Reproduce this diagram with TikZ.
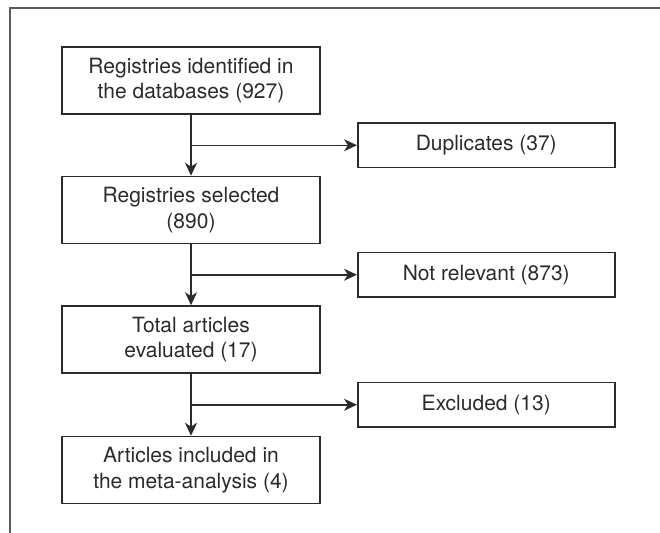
\documentclass[tikz,border=0pt]{standalone}
\usepackage{fontspec}
\setmainfont{TeX Gyre Heros}
\usepackage{tikz}
\usetikzlibrary{positioning, arrows.meta}
\definecolor{FrameGray}{HTML}{5A5A5A}
\definecolor{LineGray}{HTML}{2B2B2B}

\begin{document}
\begin{tikzpicture}[x=1pt, y=-1pt,
		box/.style={draw=LineGray, text=LineGray, line width=1.5pt, minimum width=258pt, minimum height=67pt,
			inner sep=0pt, align=center, font=\fontsize{21}{25.5}\selectfont},
		sidebox/.style={box, minimum width=257pt, minimum height=44.5pt},
		arr/.style={draw=LineGray, line width=1.5pt, -{Stealth[length=13pt, width=12pt, inset=4pt]}}]
		\clip (0,0) rectangle (660,532);
		\draw[FrameGray, line width=1.6pt] (10,540) -- (10,8) -- (670,8);
		
		\node[box]	(Identified) at (191,80.5) {Registries identified in\\the databases (927)};
		\node[box, below=61pt of Identified]	(Selected) {Registries selected\\(890)};
		\node[box, below=61pt of Selected]	(Evaluated) {Total articles\\evaluated (17)};
		\node[box, below=62pt of Evaluated]	(Included) {Articles included in\\the meta-analysis (4)};
		
		\coordinate[below=30.5pt of Identified]	(Split1);
		\coordinate[below=30.5pt of Selected]	(Split2);
		\coordinate[below=31pt of Evaluated]	(Split3);
		
		\node[sidebox, right=166pt of Split1]	(Duplicates) {Duplicates (37)};
		\node[sidebox, right=166pt of Split2]	(NotRelevant) {Not relevant (873)};
		\node[sidebox, right=166pt of Split3]	(Excluded) {Excluded (13)};
		
		\draw[arr] (Identified) -- (Selected);
		\draw[arr] (Selected) -- (Evaluated);
		\draw[arr] (Evaluated) -- (Included);
		\draw[arr] (Split1) -- (Duplicates);
		\draw[arr] (Split2) -- (NotRelevant);
		\draw[arr] (Split3) -- (Excluded);
	\end{tikzpicture}
\end{document}
